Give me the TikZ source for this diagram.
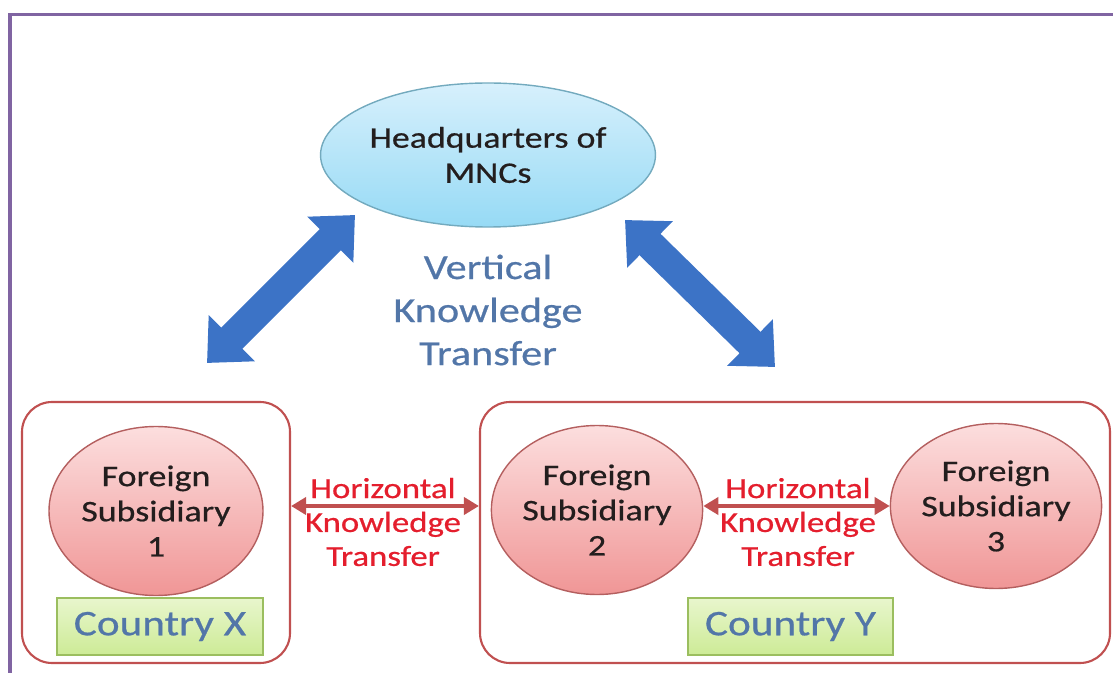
\documentclass[tikz,border=0pt]{standalone}
\usepackage{fontspec}
\setmainfont{Carlito}[FakeStretch=1.2, FakeBold=0.6]
\usepackage{xcolor}
\usepackage{tikz}
\usetikzlibrary{positioning, shapes.geometric, calc, arrows.meta}
\definecolor{kmFrame}{RGB}{128, 100, 162}
\definecolor{kmHqTop}{RGB}{215, 240, 252}
\definecolor{kmHqBot}{RGB}{150, 218, 245}
\definecolor{kmHqLine}{RGB}{115, 170, 190}
\definecolor{kmBlue}{RGB}{60, 115, 198}
\definecolor{kmSlate}{RGB}{82, 118, 168}
\definecolor{kmSubTop}{RGB}{252, 222, 222}
\definecolor{kmSubBot}{RGB}{240, 150, 150}
\definecolor{kmSubLine}{RGB}{180, 95, 95}
\definecolor{kmBox}{RGB}{192, 80, 80}
\definecolor{kmRed}{RGB}{228, 30, 45}
\definecolor{kmGreenTop}{RGB}{232, 246, 205}
\definecolor{kmGreenBot}{RGB}{205, 235, 150}
\definecolor{kmGreenLine}{RGB}{155, 190, 95}
\definecolor{kmInk}{RGB}{35, 30, 30}
\tikzset{
    base/.style={
        align=center,
        inner sep=0pt
    },
    hq/.style={
        base,
        ellipse,
        draw=kmHqLine,
        thick,
        top color=kmHqTop,
        bottom color=kmHqBot,
        text=kmInk,
        font=\fontsize{17}{20}\selectfont
    },
    subsidiary/.style={
        base,
        ellipse,
        draw=kmSubLine,
        thick,
        top color=kmSubTop,
        bottom color=kmSubBot,
        text=kmInk,
        font=\fontsize{17}{20}\selectfont
    },
    container/.style={
        rectangle,
        rounded corners=6mm,
        draw=kmBox,
        line width=1.2pt
    },
    country/.style={
        base,
        rectangle,
        draw=kmGreenLine,
        thick,
        top color=kmGreenTop,
        bottom color=kmGreenBot,
        text=kmSlate,
        font=\fontsize{20.5}{24}\selectfont
    },
    vflow/.style={
        {Triangle[length=7mm, width=12.6mm]}-{Triangle[length=7mm, width=12.6mm]},
        line width=6mm,
        color=kmBlue
    },
    hflow/.style={
        {Triangle[length=3mm, width=3.4mm]}-{Triangle[length=3mm, width=3.4mm]},
        line width=0.8mm,
        color=kmBox
    },
    caption/.style={
        base,
        font=\fontsize{16.5}{19.3}\selectfont,
        text=kmRed
    }
}

\begin{document}
\begin{tikzpicture}[y=-1cm]
  \useasboundingbox (0,0) rectangle (22.26,13.46);

  % Frame
  \draw[kmFrame, line width=0.6mm] (0.2,13.46) -- (0.2,0.3) -- (22.26,0.3);

  % Headquarters
  \node[hq, minimum width=6.2cm, minimum height=2.88cm] (hq) at (9.76,3.1) {Headquarters of\\MNCs};
  \node[base, text=kmSlate, font=\fontsize{20}{24.5}\selectfont] (vlabel) at (9.76,6.2) {Vertical\\Knowledge\\Transfer};

  % Countries
  \node[container, minimum width=5.36cm, minimum height=5.22cm] (boxX) at (3.12,10.65) {};
  \node[container, minimum width=12.6cm, minimum height=5.22cm] (boxY) at (15.9,10.65) {};

  % Subsidiaries
  \node[subsidiary, minimum width=4.28cm, minimum height=3.38cm] (sub1) at (3.12,10.22) {Foreign\\Subsidiary\\1};
  \node[subsidiary, minimum width=4.22cm, minimum height=3.38cm] (sub2) at (11.94,10.2) {Foreign\\Subsidiary\\2};
  \node[subsidiary, minimum width=4.16cm, minimum height=3.3cm] (sub3) at (19.92,10.12) {Foreign\\Subsidiary\\3};

  \node[country, minimum width=4.12cm, minimum height=1.14cm] (countryX) at (3.2,12.53) {Country X};
  \node[country, minimum width=4.1cm, minimum height=1.14cm] (countryY) at (15.81,12.53) {Country Y};

  % Vertical transfer
  \coordinate (hqL) at (7.1,4.3);
  \coordinate (hqR) at (12.5,4.4);
  \coordinate (downL) at (4.14,7.26);
  \coordinate (downR) at (15.5,7.34);
  \draw[vflow] (downL) -- (hqL);
  \draw[vflow] (hqR) -- (downR);

  % Horizontal transfer
  \draw[hflow] (sub3 -| boxX.east) -- (sub3 -| boxY.west);
  \draw[hflow] (sub3 -| sub2.east) -- (sub3.west);
  \node[caption] (hlabel1) at (7.66,10.44) {Horizontal\\Knowledge\\Transfer};
  \node[caption] (hlabel2) at (15.96,10.44) {Horizontal\\Knowledge\\Transfer};
\end{tikzpicture}
\end{document}
